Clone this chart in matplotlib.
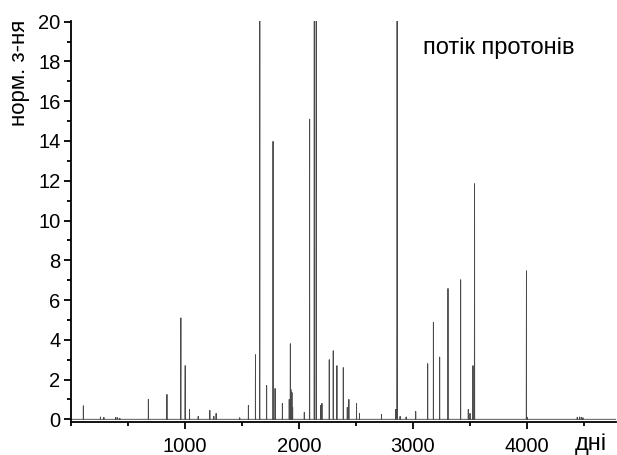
import numpy as np
import matplotlib
matplotlib.use('Agg')
import matplotlib.pyplot as plt
from matplotlib.ticker import MultipleLocator

plt.rcParams['font.family'] = ['Liberation Sans', 'DejaVu Sans']

# нормована інтенсивність потоку протонів по днях (сплески)
spike_days = [110, 260, 290, 395, 410, 430,
              680, 843, 964, 965, 1002, 1003, 1041, 1117, 1219, 1254, 1274, 1481,
              1557, 1619, 1656, 1657, 1717, 1773, 1791, 1855,
              1915, 1924, 1925, 1930, 1939, 1945, 2047,
              2093, 2094, 2134, 2135, 2151, 2152, 2190, 2202,
              2266, 2301, 2333, 2389, 2424, 2438, 2505, 2531,
              2724, 2849, 2860, 2861, 2887, 2940, 3024,
              3129, 3179, 3234, 3307, 3418, 3485, 3500, 3526, 3539, 3540,
              3994, 3995, 4003, 4440, 4460, 4475, 4490]
spike_vals = [0.68, 0.12, 0.1, 0.1, 0.08, 0.05,
              1.0, 1.25, 3.0, 5.1, 1.6, 2.7, 0.5, 0.15, 0.45, 0.15, 0.3, 0.08,
              0.7, 3.25, 15.0, 24.0, 1.7, 13.98, 1.55, 0.8,
              1.0, 1.5, 3.8, 1.5, 1.35, 0.6, 0.35,
              10.0, 15.1, 18.0, 26.0, 15.0, 25.0, 0.7, 0.8,
              3.0, 3.45, 2.7, 2.6, 0.6, 1.0, 0.8, 0.3,
              0.25, 0.5, 4.6, 23.0, 0.15, 0.12, 0.4,
              2.8, 4.87, 3.13, 6.58, 7.02, 0.5, 0.3, 2.7, 4.0, 11.85,
              4.8, 7.47, 0.1, 0.1, 0.12, 0.1, 0.08]

days = np.arange(0, 4781)
flux = np.zeros(len(days))
flux[np.array(spike_days)] = spike_vals

xticks = [1000, 2000, 3000, 4000]
yticks = list(range(0, 21, 2))

fig = plt.figure(figsize=(6.17, 4.55), dpi=100)
ax = fig.add_axes([70.8 / 617, 1 - 421.7 / 455, (616 - 70.8) / 617, (421.7 - 20.7) / 455])

ax.plot(days, flux, color='#4a4a4a', linewidth=0.65)

ax.set_xlim(0, 4780)
ax.set_ylim(-0.12, 20.05)
ax.set_xticks(xticks)
ax.set_yticks(yticks)
ax.xaxis.set_minor_locator(MultipleLocator(500))
ax.yaxis.set_minor_locator(MultipleLocator(1))

for side in ['top', 'right']:
    ax.spines[side].set_visible(False)
for side in ['left', 'bottom']:
    ax.spines[side].set_linewidth(1.3)

ax.tick_params(axis='both', which='major', direction='out', length=4.8, width=1.3, labelsize=14.5)
ax.tick_params(axis='both', which='minor', direction='out', length=3, width=1.3)
ax.tick_params(axis='x', which='major', pad=6)
ax.tick_params(axis='y', which='major', pad=2.7)

# підписи осей і назва ряду
fig.text(19.5 / 617, 1 - 20 / 455, 'норм. з-ня', rotation=90, ha='center', va='top', fontsize=16)
fig.text(575 / 617, 1 - 450 / 455, 'дні', ha='left', va='baseline', fontsize=17)
fig.text(423 / 617, 1 - 54.3 / 455, 'потік протонів', ha='left', va='baseline', fontsize=17)

plt.savefig('out.png', dpi=100)
plt.close()
